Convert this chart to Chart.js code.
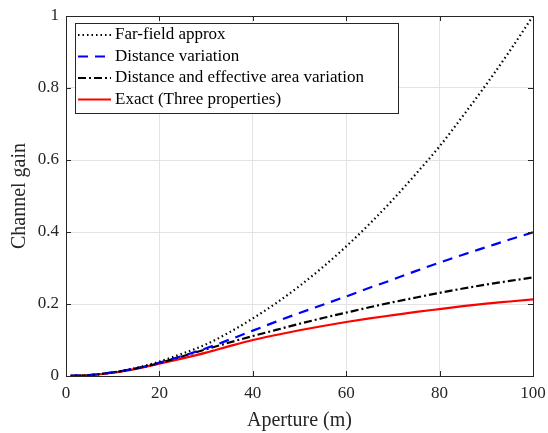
<!DOCTYPE html>
<html>
<head>
<meta charset="utf-8">
<script src="https://cdn.jsdelivr.net/npm/chart.js@4"></script>
<style>
  html, body { margin: 0; padding: 0; background: #ffffff; }
  #wrap { width: 548px; height: 433px; }
</style>
</head>
<body>
<div id="wrap"><canvas id="c" width="548" height="433"></canvas></div>
<script>
// ---- data ----
const apertures = [1, 5, 10, 15, 20, 25, 30, 35, 40, 45, 50, 55, 60, 65, 70, 75, 80, 85, 90, 95, 100];
const farField   = [0.0001, 0.0025, 0.010, 0.0225, 0.040, 0.0625, 0.088, 0.1215, 0.160, 0.2025, 0.250, 0.3025, 0.360, 0.4225, 0.490, 0.5625, 0.638, 0.7225, 0.810, 0.9025, 1.000];
const distVar    = [0.0001, 0.0025, 0.010, 0.021, 0.037, 0.056, 0.077, 0.101, 0.126, 0.151, 0.175, 0.198, 0.221, 0.245, 0.268, 0.292, 0.315, 0.337, 0.358, 0.379, 0.399];
const distArea   = [0.0001, 0.0025, 0.010, 0.021, 0.036, 0.055, 0.074, 0.093, 0.111, 0.128, 0.145, 0.161, 0.176, 0.191, 0.205, 0.218, 0.231, 0.243, 0.254, 0.264, 0.274];
const exact      = [0.0001, 0.0025, 0.009, 0.020, 0.034, 0.049, 0.065, 0.083, 0.100, 0.114, 0.127, 0.139, 0.150, 0.160, 0.169, 0.178, 0.186, 0.194, 0.201, 0.207, 0.213];
const seriesLabels = ['Far-field approx', 'Distance variation', 'Distance and effective area variation', 'Exact (Three properties)'];
const xTickValues = [0, 20, 40, 60, 80, 100];
const yTickValues = [0, 0.2, 0.4, 0.6, 0.8, 1];
const xTitle = 'Aperture (m)';
const yTitle = 'Channel gain';

const FONT = "'Liberation Serif', 'DejaVu Serif', serif";
const toPts = (ys) => ys.map((y, i) => ({ x: apertures[i], y }));

const styles = [
  { color: '#000000', dash: [1.5, 3], width: 2.2 },
  { color: '#0000ff', dash: [10, 7], width: 2.2 },
  { color: '#000000', dash: [8, 3, 2, 3], width: 2.2 },
  { color: '#ff0000', dash: [], width: 2.2 }
];
const allSeries = [farField, distVar, distArea, exact];

const datasets = allSeries.map((s, i) => ({
  label: seriesLabels[i],
  data: toPts(s),
  borderColor: styles[i].color,
  borderDash: styles[i].dash,
  borderWidth: styles[i].width,
  pointRadius: 0,
  fill: false,
  cubicInterpolationMode: 'monotone'
}));

const framePlugin = {
  id: 'frame',
  afterDatasetsDraw(chart) {
    const { ctx, chartArea: a, scales } = chart;
    ctx.save();
    ctx.strokeStyle = '#262626';
    ctx.lineWidth = 1;
    ctx.setLineDash([]);
    ctx.strokeRect(a.left + 0.5, a.top + 0.5, a.right - a.left, a.bottom - a.top);
    const tl = 5;
    ctx.beginPath();
    xTickValues.forEach(v => {
      const px = Math.round(scales.x.getPixelForValue(v)) + 0.5;
      ctx.moveTo(px, a.bottom); ctx.lineTo(px, a.bottom - tl);
      ctx.moveTo(px, a.top); ctx.lineTo(px, a.top + tl);
    });
    yTickValues.forEach(v => {
      const py = Math.round(scales.y.getPixelForValue(v)) + 0.5;
      ctx.moveTo(a.left, py); ctx.lineTo(a.left + tl, py);
      ctx.moveTo(a.right, py); ctx.lineTo(a.right - tl, py);
    });
    ctx.stroke();

    // legend
    const lx = a.left + 9, ly = a.top + 7, lw = 323, rowH = 21.5, lh = 90;
    ctx.fillStyle = '#ffffff';
    ctx.fillRect(lx, ly, lw, lh);
    ctx.strokeStyle = '#262626';
    ctx.strokeRect(lx + 0.5, ly + 0.5, lw, lh);
    ctx.font = '17px ' + FONT;
    ctx.textBaseline = 'middle';
    ctx.textAlign = 'left';
    chart.data.datasets.forEach((ds, i) => {
      const cy = ly + 12 + i * rowH;
      ctx.beginPath();
      ctx.strokeStyle = ds.borderColor;
      ctx.lineWidth = ds.borderWidth;
      ctx.setLineDash(ds.borderDash);
      ctx.moveTo(lx + 3, cy); ctx.lineTo(lx + 36, cy);
      ctx.stroke();
      ctx.setLineDash([]);
      ctx.fillStyle = '#000000';
      ctx.fillText(ds.label, lx + 40, cy);
    });
    ctx.restore();
  }
};

new Chart(document.getElementById('c'), {
  type: 'line',
  data: { datasets },
  options: {
    responsive: false,
    animation: false,
    devicePixelRatio: 1,
    layout: { padding: { top: 16, right: 15, left: 0, bottom: 0 } },
    plugins: { legend: { display: false }, tooltip: { enabled: false } },
    scales: {
      x: {
        type: 'linear', min: 0, max: 100,
        afterBuildTicks: (s) => { s.ticks = xTickValues.map(v => ({ value: v })); },
        afterFit: (s) => { s.height = 57; s.paddingLeft = 0; s.paddingRight = 0; },
        grid: { color: '#e3e3e3', lineWidth: 1, drawTicks: false },
        border: { display: false },
        ticks: { font: { family: FONT, size: 17 }, color: '#262626', padding: 7, maxRotation: 0 },
        title: { display: true, text: xTitle, font: { family: FONT, size: 20 }, color: '#262626', padding: { top: 0, bottom: 0 } }
      },
      y: {
        type: 'linear', min: 0, max: 1,
        afterBuildTicks: (s) => { s.ticks = yTickValues.map(v => ({ value: v })); },
        afterFit: (s) => { s.width = 66; s.paddingTop = 0; s.paddingBottom = 0; },
        grid: { color: '#e3e3e3', lineWidth: 1, drawTicks: false },
        border: { display: false },
        ticks: { font: { family: FONT, size: 17 }, color: '#262626', padding: 7,
                 callback: (v) => String(v) },
        title: { display: true, text: yTitle, font: { family: FONT, size: 20 }, color: '#262626', padding: { top: 8, bottom: 0 } }
      }
    }
  },
  plugins: [framePlugin]
});
</script>
</body>
</html>
